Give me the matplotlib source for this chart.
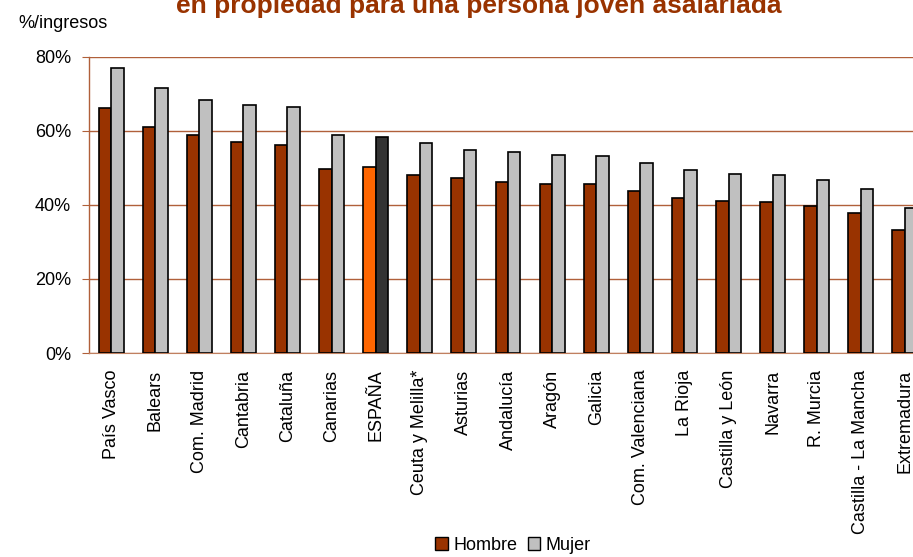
import matplotlib.pyplot as plt
from matplotlib.patches import Patch
import numpy as np

plt.rcParams['font.family'] = ['Liberation Sans', 'DejaVu Sans']

regiones = ['País Vasco', 'Balears', 'Com. Madrid', 'Cantabria', 'Cataluña',
            'Canarias', 'ESPAÑA', 'Ceuta y Melilla*', 'Asturias', 'Andalucía',
            'Aragón', 'Galicia', 'Com. Valenciana', 'La Rioja', 'Castilla y León',
            'Navarra', 'R. Murcia', 'Castilla - La Mancha', 'Extremadura']
hombre = [66.2, 61.0, 58.7, 57.0, 56.1, 49.7, 50.3, 48.0, 47.2, 46.1,
          45.5, 45.6, 43.8, 41.9, 41.1, 40.7, 39.7, 37.9, 33.1]
mujer = [76.8, 71.6, 68.2, 66.9, 66.3, 58.8, 58.4, 56.7, 54.9, 54.1,
         53.4, 53.2, 51.3, 49.3, 48.3, 48.0, 46.6, 44.3, 39.0]

marron = '#993300'
gris = '#C0C0C0'

fig = plt.figure(figsize=(9.13, 5.57), dpi=100)
ax = fig.add_axes([89 / 913, 1 - 353 / 557, 838 / 913, 296.5 / 557])

x = np.arange(len(regiones))
w = 0.283
col_h = [marron] * len(regiones)
col_m = [gris] * len(regiones)
i_esp = regiones.index('ESPAÑA')
col_h[i_esp] = '#FF6600'
col_m[i_esp] = '#333333'

ax.bar(x - w / 2, hombre, w, color=col_h, edgecolor='black', linewidth=1.2, zorder=3)
ax.bar(x + w / 2, mujer, w, color=col_m, edgecolor='black', linewidth=1.2, zorder=3)

ax.set_xlim(-0.5, 18.5)
ax.set_ylim(0, 80)
ax.set_yticks([0, 20, 40, 60, 80])
ax.set_yticklabels(['0%', '20%', '40%', '60%', '80%'], fontsize=13)
ax.set_xticks(x)
ax.set_xticklabels(regiones, rotation=90, fontsize=13)
ax.tick_params(axis='x', length=0, pad=12)
ax.tick_params(axis='y', length=5, pad=8, color='#B0603A')

ax.grid(axis='y', color='#B0603A', linewidth=1, zorder=0)
for s in ['top', 'right']:
    ax.spines[s].set_visible(False)
ax.spines['left'].set_color('#B0603A')
ax.spines['bottom'].set_color('#C08060')
ax.spines['left'].set_linewidth(1)

fig.text(18 / 913, 1 - 28 / 557, '%/ingresos', fontsize=13, va='baseline', ha='left')
fig.text(479 / 913, 1 - 12.7 / 557, 'en propiedad para una persona joven asalariada',
         fontsize=19, fontweight='bold', color=marron, ha='center', va='baseline')

handles = [Patch(facecolor=marron, edgecolor='black', label='Hombre'),
           Patch(facecolor=gris, edgecolor='black', label='Mujer')]
fig.legend(handles=handles, loc='center', bbox_to_anchor=(513 / 913, 1 - 545 / 557),
           ncol=2, frameon=False, fontsize=13, handlelength=0.7, handleheight=0.7,
           handletextpad=0.3, columnspacing=0.6, borderpad=0)

fig.savefig('out.png', dpi=100)
